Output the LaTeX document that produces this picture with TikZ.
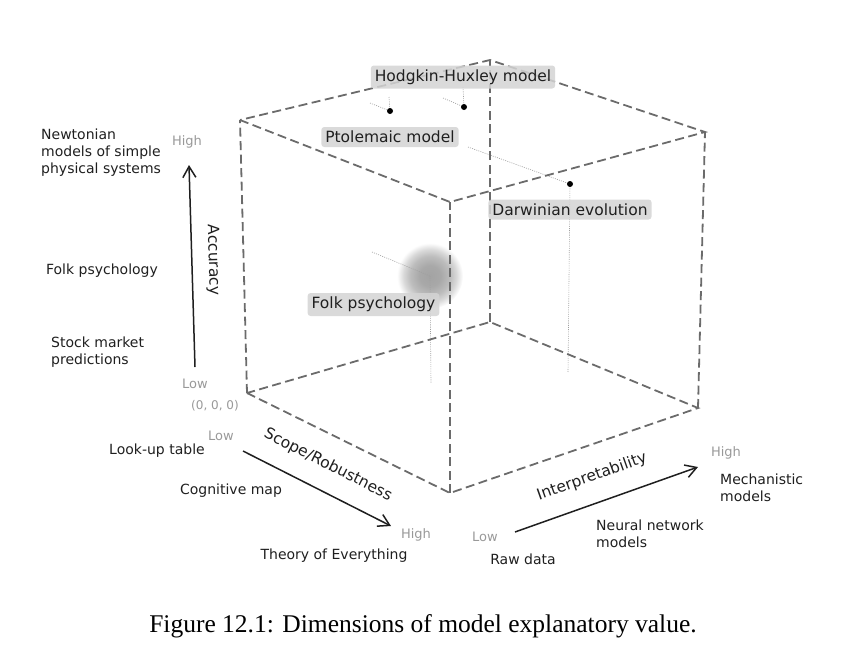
\documentclass[tikz,border=0pt]{standalone}
\usepackage{fontspec}
\setmainfont{DejaVu Sans}
\newfontfamily\captionfont{Liberation Serif}
\usetikzlibrary{arrows.meta,positioning}
\definecolor{edgegray}{gray}{0.42}
\definecolor{boxgray}{gray}{0.83}
\definecolor{levelgray}{gray}{0.6}
\definecolor{inkgray}{gray}{0.12}
%Define soft blob shading
\pgfdeclareradialshading{blob}{\pgfpoint{0bp}{0bp}}{%
  color(0bp)=(gray!72); color(8bp)=(gray!68); color(15bp)=(gray!52);
  color(20bp)=(gray!30); color(25bp)=(white); color(50bp)=(white)}
\tikzset{
    %Define standard arrow tip
    >={Straight Barb[length=11pt,width=13pt]},
    %Define style for cube edges
    cubeedge/.style={
      draw=edgegray,
      line width=1.8pt,
      dash pattern=on 9pt off 4.5pt},
    %Define style for dotted guide lines
    guide/.style={
      draw=gray!75,
      line width=0.6pt,
      dash pattern=on 1pt off 1.2pt},
    %Define style for model boxes
    modelbox/.style={
      rectangle,
      rounded corners=3pt,
      fill=boxgray, fill opacity=0.85, text opacity=1,
      text=inkgray,
      inner xsep=4pt, inner ysep=4pt,
      font=\fontsize{15.5}{18}\selectfont},
    %Define style for model points
    modeldot/.style={
      circle,
      fill=black,
      inner sep=0pt,
      minimum size=6pt},
    % Define axis arrow style
    axis/.style={
      ->,
      draw=inkgray,
      line width=1.5pt},
    axistitle/.style={
      text=inkgray,
      font=\fontsize{15.5}{18}\selectfont},
    levellabel/.style={
      text=levelgray,
      font=\fontsize{13}{15}\selectfont},
    sidenote/.style={
      align=left,
      inner sep=0pt,
      text=inkgray,
      font=\fontsize{14}{17}\selectfont}
}

\begin{document}
\begin{tikzpicture}[x=1pt, y=-1pt]
    \useasboundingbox (0,0) rectangle (847,657);

    % cube corners
    \coordinate (o) at (247,393);
    \coordinate (bf) at (450,493);
    \coordinate (br) at (698,408);
    \coordinate (bb) at (490,322);
    \coordinate (tl) at (240,120);
    \coordinate (tf) at (450,202);
    \coordinate (tr) at (705,132);
    \coordinate (tb) at (490,60);

    % model points
    \coordinate (ptol) at (390,111);
    \coordinate (hh) at (464,107);
    \coordinate (darwin) at (570,184);
    \node[circle, inner sep=0pt, minimum size=66pt,
      shading=blob] (folk) at (430,276) {};

    % guide lines
    \coordinate (ptolx) at (370,103);
    \coordinate (ptoly) at (389,97);
    \coordinate (hhx) at (443,98);
    \coordinate (hhy) at (463,87);
    \coordinate (darwinx) at (468,147);
    \coordinate (darwiny) at (568,372);
    \coordinate (folkx) at (372,252);
    \coordinate (folky) at (431,383);
    \draw[guide] (ptolx) -- (ptol);
    \draw[guide] (ptoly) -- (ptol);
    \draw[guide] (hhx) -- (hh);
    \draw[guide] (hhy) -- (hh);
    \draw[guide] (darwinx) -- (darwin);
    \draw[guide] (darwin) -- (darwiny);
    \draw[guide] (folkx) -- (folk.center);
    \draw[guide] (folk.center) -- (folky);

    % cube
    \draw[cubeedge] (o) -- (bf) -- (br) -- (bb) -- cycle;
    \draw[cubeedge] (tl) -- (tf) -- (tr) -- (tb) -- cycle;
    \draw[cubeedge] (o) -- (tl);
    \draw[cubeedge] (bf) -- (tf);
    \draw[cubeedge] (br) -- (tr);
    \draw[cubeedge] (bb) -- (tb);

    \node[modeldot] (ptoldot) at (ptol) {};
    \node[modeldot] (hhdot) at (hh) {};
    \node[modeldot] (darwindot) at (darwin) {};

    \node[modelbox] (hhbox) at (463,77) {Hodgkin-Huxley model};
    \node[modelbox] (ptolbox) at (390,137) {Ptolemaic model};
    \node[modelbox] (darwinbox) at (570,209.5) {Darwinian evolution};
    \node[modelbox] (folkbox) at (373.5,304.5) {Folk psychology};

    % accuracy axis
    \coordinate (acclow) at (195,367);
    \coordinate (acchigh) at (189,165);
    \draw[axis] (acclow) -- (acchigh);
    \node[axistitle, rotate=-88.3] (acctitle) at (213,260) {Accuracy};
    \node[levellabel] (acchightext) at (187,142) {High};
    \node[levellabel] (acclowtext) at (195,384) {Low};
    \node[levellabel, font=\fontsize{12}{14}\selectfont] (origin) at (215,406) {(0, 0, 0)};
    \node[sidenote, anchor=west] (newton) at (41,153) {Newtonian\\models of simple\\physical systems};
    \node[sidenote] (folkacc) at (102,271) {Folk psychology};
    \node[sidenote, anchor=west] (stock) at (51,352.5) {Stock market\\predictions};

    % scope axis
    \coordinate (scopelow) at (243,451);
    \coordinate (scopehigh) at (391,526);
    \draw[axis] (scopelow) -- (scopehigh);
    \node[axistitle, rotate=-26.9] (scopetitle) at (328,465) {Scope/Robustness};
    \node[levellabel] (scopelowtext) at (221,436) {Low};
    \node[levellabel] (scopehightext) at (416,535) {High};
    \node[sidenote] (lookup) at (157,451) {Look-up table};
    \node[sidenote] (cogmap) at (231,491) {Cognitive map};
    \node[sidenote] (toe) at (334,556) {Theory of Everything};

    % interpretability axis
    \coordinate (intlow) at (515,532);
    \coordinate (inthigh) at (698,467);
    \draw[axis] (intlow) -- (inthigh);
    \node[axistitle, rotate=19.6] (inttitle) at (592,477) {Interpretability};
    \node[levellabel] (intlowtext) at (485,537) {Low};
    \node[levellabel] (inthightext) at (726,453) {High};
    \node[sidenote] (rawdata) at (523,559) {Raw data};
    \node[sidenote, anchor=west] (mech) at (720,488) {Mechanistic\\models};
    \node[sidenote, anchor=west] (neural) at (596,533.5) {Neural network\\models};

    \node[font=\captionfont\fontsize{25.5}{30}\selectfont] (caption) at (423,626)
      {Figure 12.1: Dimensions of model explanatory value.};
\end{tikzpicture}
\end{document}
